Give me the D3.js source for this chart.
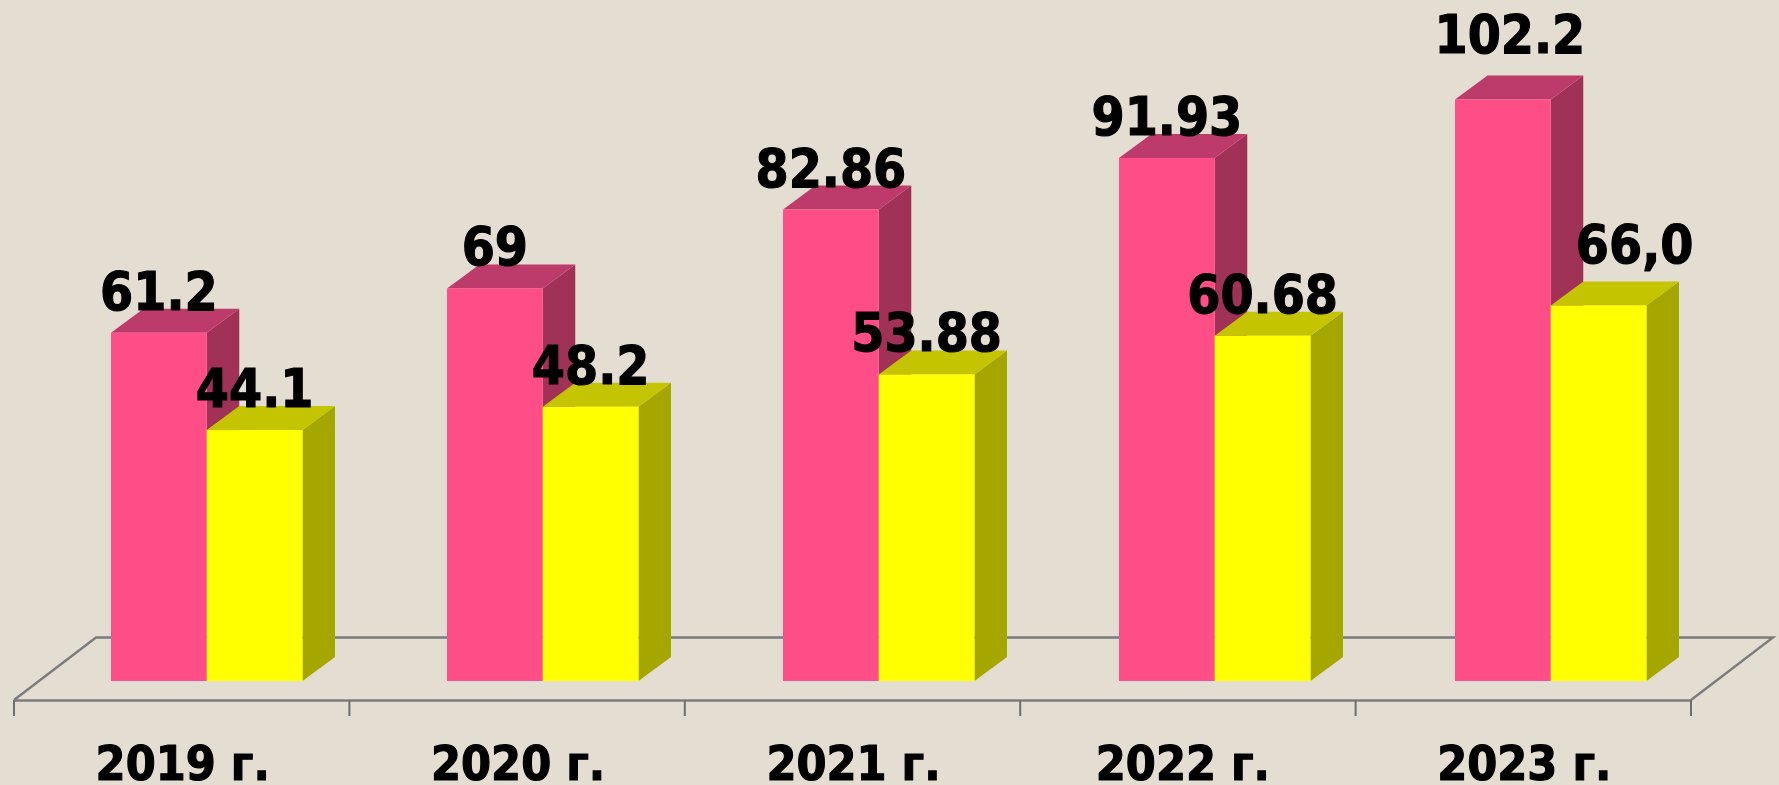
<!DOCTYPE html>
<html>
<head>
<meta charset="utf-8">
<script src="https://cdn.jsdelivr.net/npm/d3@7"></script>
<style>
  html, body { margin: 0; padding: 0; background: #e3ddd2; overflow: hidden; }
  text { font-family: "DejaVu Sans Condensed", "DejaVu Sans", sans-serif; font-stretch: condensed; font-weight: bold; fill: #000; stroke: #000; stroke-width: 1.1; }
</style>
</head>
<body>
<div id="chart"></div>
<script>
// chart data
var years = ["2019 г.", "2020 г.", "2021 г.", "2022 г.", "2023 г."];
var seriesNames = ["pink", "yellow"];
var pinkValues = [61.2, 69, 82.86, 91.93, 102.2];
var yellowValues = [44.1, 48.2, 53.88, 60.68, 66.0];
var pinkLabels = ["61.2", "69", "82.86", "91.93", "102.2"];
var yellowLabels = ["44.1", "48.2", "53.88", "60.68", "66,0"];

var width = 1779, height = 785;

// 3d look: every face is the front rectangle pushed back by this much
var depthX = 32.5, depthY = 24;
var floorDepthX = 82, floorDepthY = 62.5;
var floorY = 700, baseY = 681;

var colors = {
  pink: { front: "#ff4d88", top: "#bd3b6b", side: "#a03059" },
  yellow: { front: "#ffff00", top: "#c4c400", side: "#a6a600" }
};

var svg = d3.select("#chart").append("svg")
  .attr("width", width)
  .attr("height", height);

// the reference is a slightly soft image, keep the edges soft too
svg.append("filter")
  .attr("id", "soft")
  .append("feGaussianBlur")
  .attr("stdDeviation", 0.55);

var root = svg.append("g").attr("filter", "url(#soft)");

// x axis sits on the front edge of the floor, bars stand further back
var x = d3.scaleBand().domain(years).range([14, 1691]);
var xBars = d3.scaleBand().domain(years).range([39, 1719]);
var groupWidth = 191.5;
var xSeries = d3.scaleBand().domain(seriesNames).range([0, groupWidth]);
var y = d3.scaleLinear().domain([0, 110]).range([baseY, baseY - 110 * 5.69]);

// floor
var floorLine = d3.line();
root.append("path")
  .attr("d", floorLine([
    [14, floorY],
    [14 + floorDepthX, floorY - floorDepthY],
    [1691 + floorDepthX, floorY - floorDepthY],
    [1691, floorY]
  ]))
  .attr("fill", "none")
  .attr("stroke", "#7c7c7c")
  .attr("stroke-width", 2.4);

// axis, tick marks are on the band edges so they get drawn by hand
var axis = root.append("g")
  .attr("transform", `translate(0, ${floorY})`)
  .call(d3.axisBottom(x).tickSize(0).tickPadding(45));
axis.select(".domain").attr("stroke", "#7c7c7c").attr("stroke-width", 2.4);
axis.selectAll("text").attr("font-size", 48).attr("dy", "0.0em")
  .attr("y", 80)
  .attr("dx", (d) => (d === "2022 г." ? -5 : 1))
  .attr("dominant-baseline", "auto");

root.append("g").selectAll("line")
  .data(years.concat(["end"]))
  .enter()
  .append("line")
  .attr("x1", (d, i) => (i < years.length ? x(d) : x.range()[1]))
  .attr("x2", (d, i) => (i < years.length ? x(d) : x.range()[1]))
  .attr("y1", floorY)
  .attr("y2", floorY + 16)
  .attr("stroke", "#6e6e6e")
  .attr("stroke-width", 2);

// one record per bar, pink goes first so the yellow top covers its side
var bars = [];
years.forEach(function (year, i) {
  bars.push({ year: year, series: "pink", value: pinkValues[i], label: pinkLabels[i] });
  bars.push({ year: year, series: "yellow", value: yellowValues[i], label: yellowLabels[i] });
});

function barLeft(d) { return xBars(d.year) + (xBars.bandwidth() - 192) / 2 + xSeries(d.series); }
function barRight(d) { return barLeft(d) + xSeries.bandwidth(); }

var barGroups = root.append("g").selectAll("g")
  .data(bars)
  .enter()
  .append("g");

// side face
barGroups.append("path")
  .attr("fill", (d) => colors[d.series].side)
  .attr("d", (d) => floorLine([
    [barRight(d), y(d.value)],
    [barRight(d) + depthX, y(d.value) - depthY],
    [barRight(d) + depthX, y(0) - depthY],
    [barRight(d), y(0)]
  ]) + "Z");

// top face
barGroups.append("path")
  .attr("fill", (d) => colors[d.series].top)
  .attr("d", (d) => floorLine([
    [barLeft(d), y(d.value)],
    [barLeft(d) + depthX, y(d.value) - depthY],
    [barRight(d) + depthX, y(d.value) - depthY],
    [barRight(d), y(d.value)]
  ]) + "Z");

// front face
barGroups.append("rect")
  .attr("x", barLeft)
  .attr("y", (d) => y(d.value))
  .attr("width", xSeries.bandwidth())
  .attr("height", (d) => y(0) - y(d.value))
  .attr("fill", (d) => colors[d.series].front);

// value labels, the 2023 ones were moved by hand in the original
function labelDx(d) {
  if (d.label === "102.2") return 7;
  if (d.label === "66,0") return 36;
  return 0;
}
function labelDy(d) {
  if (d.label === "102.2") return 46;
  if (d.label === "66,0") return 42;
  return 23;
}

root.append("g").selectAll("text")
  .data(bars)
  .enter()
  .append("text")
  .attr("x", (d) => barLeft(d) + xSeries.bandwidth() / 2 + labelDx(d))
  .attr("y", (d) => y(d.value) - labelDy(d))
  .attr("text-anchor", "middle")
  .attr("font-size", 53)
  .text((d) => d.label);
</script>
</body>
</html>
